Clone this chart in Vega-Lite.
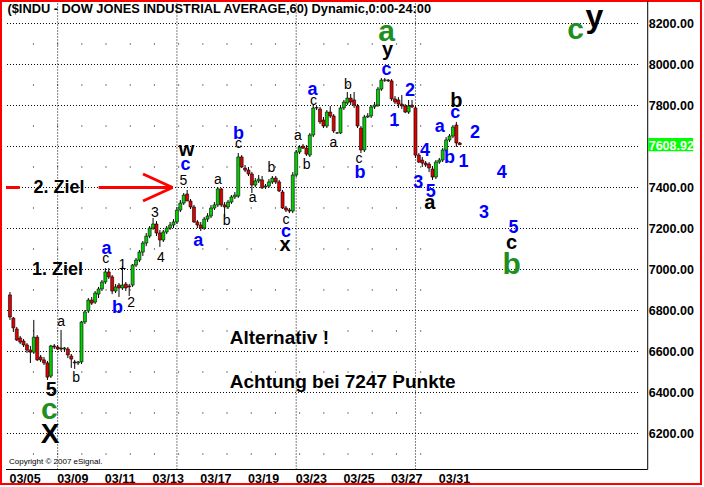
{
  "$schema": "https://vega.github.io/schema/vega-lite/v6.json",
  "width": 700,
  "height": 483,
  "autosize": {"type": "none"},
  "padding": {"left": 1, "top": 1, "right": 3, "bottom": 3},
  "background": "#ffffff",
  "config": {
    "view": {"stroke": "#ff0000", "strokeWidth": 2},
    "text": {"font": "Liberation Sans, Arial, sans-serif"}
  },
  "datasets": {
    "candles": [
      {"bar": 0, "open": 6876, "high": 6890, "low": 6754, "close": 6768},
      {"bar": 1, "open": 6763, "high": 6768, "low": 6695, "close": 6715},
      {"bar": 2, "open": 6710, "high": 6720, "low": 6651, "close": 6656},
      {"bar": 3, "open": 6666, "high": 6676, "low": 6636, "close": 6646},
      {"bar": 4, "open": 6651, "high": 6661, "low": 6622, "close": 6632},
      {"bar": 5, "open": 6632, "high": 6641, "low": 6593, "close": 6607},
      {"bar": 6, "open": 6607, "high": 6627, "low": 6544, "close": 6597},
      {"bar": 7, "open": 6597, "high": 6754, "low": 6588, "close": 6670},
      {"bar": 8, "open": 6670, "high": 6680, "low": 6554, "close": 6559},
      {"bar": 9, "open": 6573, "high": 6583, "low": 6549, "close": 6559},
      {"bar": 10, "open": 6559, "high": 6573, "low": 6534, "close": 6544},
      {"bar": 11, "open": 6544, "high": 6554, "low": 6461, "close": 6475},
      {"bar": 12, "open": 6480, "high": 6632, "low": 6471, "close": 6627},
      {"bar": 13, "open": 6627, "high": 6637, "low": 6612, "close": 6622},
      {"bar": 14, "open": 6622, "high": 6632, "low": 6607, "close": 6612},
      {"bar": 15, "open": 6617, "high": 6705, "low": 6602, "close": 6612},
      {"bar": 16, "open": 6612, "high": 6622, "low": 6602, "close": 6617},
      {"bar": 17, "open": 6612, "high": 6622, "low": 6568, "close": 6583},
      {"bar": 18, "open": 6578, "high": 6588, "low": 6520, "close": 6563},
      {"bar": 19, "open": 6549, "high": 6559, "low": 6515, "close": 6544},
      {"bar": 20, "open": 6544, "high": 6554, "low": 6534, "close": 6549},
      {"bar": 21, "open": 6549, "high": 6749, "low": 6539, "close": 6744},
      {"bar": 22, "open": 6744, "high": 6802, "low": 6734, "close": 6793},
      {"bar": 23, "open": 6798, "high": 6861, "low": 6788, "close": 6851},
      {"bar": 24, "open": 6851, "high": 6866, "low": 6827, "close": 6836},
      {"bar": 25, "open": 6841, "high": 6895, "low": 6832, "close": 6885},
      {"bar": 26, "open": 6880, "high": 6915, "low": 6861, "close": 6905},
      {"bar": 27, "open": 6905, "high": 6949, "low": 6895, "close": 6939},
      {"bar": 28, "open": 6939, "high": 7007, "low": 6929, "close": 6988},
      {"bar": 29, "open": 6988, "high": 7007, "low": 6954, "close": 6964},
      {"bar": 30, "open": 6964, "high": 6973, "low": 6880, "close": 6895},
      {"bar": 31, "open": 6895, "high": 6929, "low": 6885, "close": 6915},
      {"bar": 32, "open": 6924, "high": 6934, "low": 6866, "close": 6910},
      {"bar": 33, "open": 6910, "high": 7017, "low": 6900, "close": 6924},
      {"bar": 34, "open": 6929, "high": 6939, "low": 6895, "close": 6910},
      {"bar": 35, "open": 6920, "high": 6930, "low": 6871, "close": 6915},
      {"bar": 36, "open": 6924, "high": 7027, "low": 6915, "close": 7022},
      {"bar": 37, "open": 7022, "high": 7056, "low": 7012, "close": 7046},
      {"bar": 38, "open": 7046, "high": 7095, "low": 7036, "close": 7085},
      {"bar": 39, "open": 7085, "high": 7139, "low": 7066, "close": 7129},
      {"bar": 40, "open": 7129, "high": 7178, "low": 7114, "close": 7163},
      {"bar": 41, "open": 7163, "high": 7212, "low": 7153, "close": 7202},
      {"bar": 42, "open": 7202, "high": 7251, "low": 7193, "close": 7222},
      {"bar": 43, "open": 7222, "high": 7236, "low": 7163, "close": 7178},
      {"bar": 44, "open": 7178, "high": 7193, "low": 7110, "close": 7144},
      {"bar": 45, "open": 7144, "high": 7193, "low": 7134, "close": 7183},
      {"bar": 46, "open": 7183, "high": 7212, "low": 7173, "close": 7202},
      {"bar": 47, "open": 7202, "high": 7232, "low": 7193, "close": 7217},
      {"bar": 48, "open": 7217, "high": 7246, "low": 7202, "close": 7232},
      {"bar": 49, "open": 7232, "high": 7305, "low": 7222, "close": 7290},
      {"bar": 50, "open": 7290, "high": 7339, "low": 7280, "close": 7324},
      {"bar": 51, "open": 7324, "high": 7373, "low": 7315, "close": 7363},
      {"bar": 52, "open": 7368, "high": 7388, "low": 7334, "close": 7334},
      {"bar": 53, "open": 7334, "high": 7344, "low": 7295, "close": 7305},
      {"bar": 54, "open": 7305, "high": 7315, "low": 7227, "close": 7232},
      {"bar": 55, "open": 7232, "high": 7241, "low": 7202, "close": 7217},
      {"bar": 56, "open": 7217, "high": 7232, "low": 7188, "close": 7202},
      {"bar": 57, "open": 7202, "high": 7256, "low": 7193, "close": 7246},
      {"bar": 58, "open": 7246, "high": 7275, "low": 7232, "close": 7261},
      {"bar": 59, "open": 7261, "high": 7315, "low": 7251, "close": 7300},
      {"bar": 60, "open": 7300, "high": 7329, "low": 7290, "close": 7315},
      {"bar": 61, "open": 7315, "high": 7402, "low": 7305, "close": 7393},
      {"bar": 62, "open": 7393, "high": 7398, "low": 7305, "close": 7315},
      {"bar": 63, "open": 7315, "high": 7329, "low": 7256, "close": 7305},
      {"bar": 64, "open": 7305, "high": 7339, "low": 7295, "close": 7329},
      {"bar": 65, "open": 7329, "high": 7363, "low": 7320, "close": 7354},
      {"bar": 66, "open": 7354, "high": 7378, "low": 7344, "close": 7363},
      {"bar": 67, "open": 7358, "high": 7568, "low": 7349, "close": 7549},
      {"bar": 68, "open": 7549, "high": 7558, "low": 7495, "close": 7500},
      {"bar": 69, "open": 7495, "high": 7510, "low": 7475, "close": 7485},
      {"bar": 70, "open": 7485, "high": 7500, "low": 7456, "close": 7466},
      {"bar": 71, "open": 7466, "high": 7476, "low": 7373, "close": 7412},
      {"bar": 72, "open": 7412, "high": 7446, "low": 7402, "close": 7432},
      {"bar": 73, "open": 7432, "high": 7461, "low": 7422, "close": 7441},
      {"bar": 74, "open": 7437, "high": 7456, "low": 7393, "close": 7398},
      {"bar": 75, "open": 7402, "high": 7417, "low": 7393, "close": 7407},
      {"bar": 76, "open": 7407, "high": 7441, "low": 7398, "close": 7427},
      {"bar": 77, "open": 7427, "high": 7456, "low": 7417, "close": 7446},
      {"bar": 78, "open": 7446, "high": 7456, "low": 7417, "close": 7427},
      {"bar": 79, "open": 7427, "high": 7437, "low": 7378, "close": 7383},
      {"bar": 80, "open": 7378, "high": 7388, "low": 7295, "close": 7300},
      {"bar": 81, "open": 7300, "high": 7310, "low": 7280, "close": 7290},
      {"bar": 82, "open": 7290, "high": 7300, "low": 7275, "close": 7285},
      {"bar": 83, "open": 7285, "high": 7475, "low": 7275, "close": 7461},
      {"bar": 84, "open": 7461, "high": 7583, "low": 7451, "close": 7573},
      {"bar": 85, "open": 7573, "high": 7607, "low": 7563, "close": 7597},
      {"bar": 86, "open": 7602, "high": 7612, "low": 7588, "close": 7592},
      {"bar": 87, "open": 7592, "high": 7607, "low": 7554, "close": 7563},
      {"bar": 88, "open": 7558, "high": 7666, "low": 7549, "close": 7656},
      {"bar": 89, "open": 7656, "high": 7802, "low": 7646, "close": 7788},
      {"bar": 90, "open": 7788, "high": 7797, "low": 7778, "close": 7790},
      {"bar": 91, "open": 7783, "high": 7793, "low": 7710, "close": 7720},
      {"bar": 92, "open": 7729, "high": 7744, "low": 7690, "close": 7700},
      {"bar": 93, "open": 7700, "high": 7778, "low": 7690, "close": 7768},
      {"bar": 94, "open": 7768, "high": 7797, "low": 7739, "close": 7749},
      {"bar": 95, "open": 7749, "high": 7758, "low": 7666, "close": 7676},
      {"bar": 96, "open": 7666, "high": 7671, "low": 7661, "close": 7666},
      {"bar": 97, "open": 7666, "high": 7797, "low": 7661, "close": 7788},
      {"bar": 98, "open": 7788, "high": 7827, "low": 7778, "close": 7817},
      {"bar": 99, "open": 7812, "high": 7866, "low": 7802, "close": 7836},
      {"bar": 100, "open": 7836, "high": 7856, "low": 7802, "close": 7817},
      {"bar": 101, "open": 7827, "high": 7866, "low": 7788, "close": 7802},
      {"bar": 102, "open": 7798, "high": 7807, "low": 7690, "close": 7700},
      {"bar": 103, "open": 7690, "high": 7700, "low": 7568, "close": 7583},
      {"bar": 104, "open": 7583, "high": 7754, "low": 7573, "close": 7744},
      {"bar": 105, "open": 7744, "high": 7763, "low": 7739, "close": 7749},
      {"bar": 106, "open": 7749, "high": 7802, "low": 7739, "close": 7793},
      {"bar": 107, "open": 7793, "high": 7817, "low": 7783, "close": 7802},
      {"bar": 108, "open": 7802, "high": 7890, "low": 7793, "close": 7880},
      {"bar": 109, "open": 7880, "high": 7934, "low": 7871, "close": 7924},
      {"bar": 110, "open": 7924, "high": 7934, "low": 7915, "close": 7924},
      {"bar": 111, "open": 7924, "high": 7929, "low": 7915, "close": 7920},
      {"bar": 112, "open": 7920, "high": 7929, "low": 7822, "close": 7832},
      {"bar": 113, "open": 7832, "high": 7846, "low": 7807, "close": 7817},
      {"bar": 114, "open": 7827, "high": 7841, "low": 7788, "close": 7807},
      {"bar": 115, "open": 7807, "high": 7851, "low": 7783, "close": 7798},
      {"bar": 116, "open": 7798, "high": 7807, "low": 7763, "close": 7768},
      {"bar": 117, "open": 7768, "high": 7827, "low": 7759, "close": 7798},
      {"bar": 118, "open": 7802, "high": 7827, "low": 7788, "close": 7793},
      {"bar": 119, "open": 7788, "high": 7798, "low": 7544, "close": 7558},
      {"bar": 120, "open": 7558, "high": 7568, "low": 7519, "close": 7524},
      {"bar": 121, "open": 7534, "high": 7549, "low": 7500, "close": 7519},
      {"bar": 122, "open": 7519, "high": 7529, "low": 7500, "close": 7510},
      {"bar": 123, "open": 7514, "high": 7524, "low": 7475, "close": 7495},
      {"bar": 124, "open": 7490, "high": 7505, "low": 7437, "close": 7451},
      {"bar": 125, "open": 7451, "high": 7534, "low": 7441, "close": 7524},
      {"bar": 126, "open": 7524, "high": 7544, "low": 7515, "close": 7534},
      {"bar": 127, "open": 7534, "high": 7593, "low": 7524, "close": 7583},
      {"bar": 128, "open": 7583, "high": 7646, "low": 7573, "close": 7632},
      {"bar": 129, "open": 7632, "high": 7661, "low": 7622, "close": 7651},
      {"bar": 130, "open": 7651, "high": 7705, "low": 7641, "close": 7695},
      {"bar": 131, "open": 7705, "high": 7720, "low": 7598, "close": 7617},
      {"bar": 132, "open": 7617, "high": 7622, "low": 7607, "close": 7608.92}
    ],
    "levels": [
      {"level": 6200}, {"level": 6400}, {"level": 6600}, {"level": 6800},
      {"level": 7000}, {"level": 7200}, {"level": 7400}, {"level": 7600},
      {"level": 7800}, {"level": 8000}, {"level": 8200}
    ],
    "midLevels": [
      {"level": 6100}, {"level": 6300}, {"level": 6500}, {"level": 6700},
      {"level": 6900}, {"level": 7100}, {"level": 7300}, {"level": 7500},
      {"level": 7700}, {"level": 7900}, {"level": 8100}
    ],
    "mondays": [{"bar": 14}, {"bar": 49}, {"bar": 84}, {"bar": 119}],
    "days": [
      {"bar": 0, "date": "03/05"}, {"bar": 14, "date": "03/09"},
      {"bar": 28, "date": "03/11"}, {"bar": 42, "date": "03/13"},
      {"bar": 56, "date": "03/17"}, {"bar": 70, "date": "03/19"},
      {"bar": 84, "date": "03/23"}, {"bar": 98, "date": "03/25"},
      {"bar": 112, "date": "03/27"}, {"bar": 126, "date": "03/31"}
    ],
    "waves": [
      {"label": "X", "bar": 11.8, "price": 6193.2, "degree": "Cycle"},
      {"label": "y", "bar": 171.5, "price": 8232, "degree": "Cycle"},
      {"label": "c", "bar": 11.57, "price": 6316, "degree": "Primary"},
      {"label": "a", "bar": 110.5, "price": 8159.5, "degree": "Primary"},
      {"label": "b", "bar": 147.2, "price": 7022, "degree": "Primary"},
      {"label": "c", "bar": 166.0, "price": 8169.2, "degree": "Primary"},
      {"label": "5", "bar": 12.15, "price": 6411.2, "degree": "Intermediate"},
      {"label": "w", "bar": 51.8, "price": 7581.9, "degree": "Intermediate"},
      {"label": "x", "bar": 80.7, "price": 7118.5, "degree": "Intermediate"},
      {"label": "y", "bar": 110.8, "price": 8070.2, "degree": "Intermediate"},
      {"label": "b", "bar": 131.0, "price": 7820.5, "degree": "Intermediate"},
      {"label": "a", "bar": 123.2, "price": 7323.4, "degree": "Intermediate"},
      {"label": "c", "bar": 147.2, "price": 7128.3, "degree": "Intermediate"},
      {"label": "a", "bar": 28.35, "price": 7098.5, "degree": "Minor"},
      {"label": "b", "bar": 31.53, "price": 6811.2, "degree": "Minor"},
      {"label": "c", "bar": 51.49, "price": 7508.3, "degree": "Minor"},
      {"label": "a", "bar": 55.25, "price": 7137.5, "degree": "Minor"},
      {"label": "b", "bar": 67.1, "price": 7660, "degree": "Minor"},
      {"label": "c", "bar": 81.0, "price": 7181.4, "degree": "Minor"},
      {"label": "a", "bar": 88.8, "price": 7874.1, "degree": "Minor"},
      {"label": "b", "bar": 102.7, "price": 7469.7, "degree": "Minor"},
      {"label": "c", "bar": 110.5, "price": 7971.7, "degree": "Minor"},
      {"label": "2", "bar": 117.4, "price": 7870.7, "degree": "Minor"},
      {"label": "1", "bar": 112.8, "price": 7724.4, "degree": "Minor"},
      {"label": "4", "bar": 121.8, "price": 7578, "degree": "Minor"},
      {"label": "3", "bar": 119.8, "price": 7422, "degree": "Minor"},
      {"label": "5", "bar": 123.5, "price": 7378, "degree": "Minor"},
      {"label": "a", "bar": 126.1, "price": 7693.6, "degree": "Minor"},
      {"label": "b", "bar": 129.0, "price": 7542.9, "degree": "Minor"},
      {"label": "c", "bar": 130.7, "price": 7761.9, "degree": "Minor"},
      {"label": "1", "bar": 133.1, "price": 7524.4, "degree": "Minor"},
      {"label": "2", "bar": 136.5, "price": 7665.8, "degree": "Minor"},
      {"label": "4", "bar": 144.3, "price": 7470.7, "degree": "Minor"},
      {"label": "3", "bar": 139.1, "price": 7275.6, "degree": "Minor"},
      {"label": "5", "bar": 147.8, "price": 7202.4, "degree": "Minor"},
      {"label": "a", "bar": 15.0, "price": 6741.9, "degree": "Minute"},
      {"label": "b", "bar": 19.4, "price": 6471.2, "degree": "Minute"},
      {"label": "c", "bar": 28.1, "price": 7049.3, "degree": "Minute"},
      {"label": "1", "bar": 33.0, "price": 7022.9, "degree": "Minute"},
      {"label": "2", "bar": 35.6, "price": 6837.5, "degree": "Minute"},
      {"label": "3", "bar": 42.5, "price": 7276.6, "degree": "Minute"},
      {"label": "4", "bar": 44.3, "price": 7057.1, "degree": "Minute"},
      {"label": "5", "bar": 50.9, "price": 7432.7, "degree": "Minute"},
      {"label": "a", "bar": 61.0, "price": 7434.6, "degree": "Minute"},
      {"label": "b", "bar": 63.6, "price": 7237, "degree": "Minute"},
      {"label": "c", "bar": 67.1, "price": 7610.2, "degree": "Minute"},
      {"label": "a", "bar": 71.2, "price": 7346.8, "degree": "Minute"},
      {"label": "b", "bar": 76.7, "price": 7495.6, "degree": "Minute"},
      {"label": "c", "bar": 81.0, "price": 7239.5, "degree": "Minute"},
      {"label": "a", "bar": 84.5, "price": 7649.2, "degree": "Minute"},
      {"label": "b", "bar": 87.1, "price": 7510.2, "degree": "Minute"},
      {"label": "c", "bar": 89.1, "price": 7820, "degree": "Minute"},
      {"label": "a", "bar": 94.9, "price": 7615.1, "degree": "Minute"},
      {"label": "b", "bar": 99.2, "price": 7900.5, "degree": "Minute"},
      {"label": "c", "bar": 102.4, "price": 7537, "degree": "Minute"}
    ],
    "notes": [
      {"note": "1. Ziel", "bar": 6.5, "price": 6997, "kind": "target"},
      {"note": "2. Ziel", "bar": 6.9, "price": 7397, "kind": "target"},
      {"note": "Alternativ !", "bar": 64.5, "price": 6665.3, "kind": "remark"},
      {"note": "Achtung bei 7247 Punkte", "bar": 64.5, "price": 6450.7, "kind": "remark"}
    ]
  },
  "layer": [
    {
      "description": "dotted price grid",
      "data": {"name": "levels"},
      "mark": {"type": "rule", "color": "#000000", "strokeWidth": 1, "strokeDash": [1, 2]},
      "encoding": {
        "y": {"field": "level", "type": "quantitative", "scale": {"domain": [5953.65, 8309.72], "nice": false, "zero": false}, "axis": null},
        "x": {"datum": -0.87, "type": "quantitative", "scale": {"domain": [-1.157, 201.33], "nice": false, "zero": false}, "axis": null},
        "x2": {"datum": 184.55}
      }
    },
    {
      "description": "single grid dots at each trading day on the odd hundreds",
      "data": {"name": "midLevels"},
      "mark": {"type": "rule", "color": "#000000", "strokeWidth": 1, "strokeDash": [1, 23.2]},
      "encoding": {
        "y": {"field": "level", "type": "quantitative", "scale": {"domain": [5953.65, 8309.72], "nice": false, "zero": false}, "axis": null},
        "x": {"datum": 6.75, "type": "quantitative", "scale": {"domain": [-1.157, 201.33], "nice": false, "zero": false}, "axis": null},
        "x2": {"datum": 126.3}
      }
    },
    {
      "description": "weekly dotted separators",
      "data": {"name": "mondays"},
      "mark": {"type": "rule", "color": "#000000", "strokeWidth": 1, "strokeDash": [1, 2]},
      "encoding": {
        "x": {"field": "bar", "type": "quantitative", "scale": {"domain": [-1.157, 201.33], "nice": false, "zero": false}, "axis": null},
        "y": {"datum": 6024.4, "type": "quantitative", "scale": {"domain": [5953.65, 8309.72], "nice": false, "zero": false}, "axis": null},
        "y2": {"datum": 8305}
      }
    },
    {
      "description": "plot frame: bottom edge",
      "data": {"values": [{}]},
      "mark": {"type": "rule", "color": "#000000", "strokeWidth": 1},
      "encoding": {
        "x": {"datum": -1.157, "type": "quantitative", "scale": {"domain": [-1.157, 201.33], "nice": false, "zero": false}, "axis": null},
        "x2": {"datum": 187.16},
        "y": {"datum": 6024.4, "type": "quantitative", "scale": {"domain": [5953.65, 8309.72], "nice": false, "zero": false}, "axis": null}
      }
    },
    {
      "description": "plot frame: price scale edge",
      "data": {"values": [{}]},
      "mark": {"type": "rule", "color": "#000000", "strokeWidth": 1},
      "encoding": {
        "x": {"datum": 187.16, "type": "quantitative", "scale": {"domain": [-1.157, 201.33], "nice": false, "zero": false}, "axis": null},
        "y": {"datum": 6024.4, "type": "quantitative", "scale": {"domain": [5953.65, 8309.72], "nice": false, "zero": false}, "axis": null},
        "y2": {"datum": 8309.72}
      }
    },
    {
      "description": "candle wicks",
      "data": {"name": "candles"},
      "mark": {"type": "rule", "color": "#000000", "strokeWidth": 1},
      "encoding": {
        "x": {"field": "bar", "type": "quantitative", "scale": {"domain": [-1.157, 201.33], "nice": false, "zero": false}, "axis": null},
        "y": {"field": "low", "type": "quantitative", "scale": {"domain": [5953.65, 8309.72], "nice": false, "zero": false}, "axis": null},
        "y2": {"field": "high"}
      }
    },
    {
      "description": "candle bodies",
      "data": {"name": "candles"},
      "mark": {"type": "bar", "size": 3, "orient": "vertical", "stroke": "#000000", "strokeWidth": 0.6},
      "encoding": {
        "x": {"field": "bar", "type": "quantitative", "scale": {"domain": [-1.157, 201.33], "nice": false, "zero": false}, "axis": null},
        "y": {"field": "open", "type": "quantitative", "scale": {"domain": [5953.65, 8309.72], "nice": false, "zero": false}, "axis": null},
        "y2": {"field": "close"},
        "fill": {"condition": {"test": "datum.close < datum.open", "value": "#e00000"}, "value": "#00d000"}
      }
    },
    {
      "description": "target arrow at 7400: left stub",
      "data": {"values": [{}]},
      "mark": {"type": "rule", "color": "#ff0000", "strokeWidth": 3},
      "encoding": {
        "x": {"datum": -1.157, "type": "quantitative", "scale": {"domain": [-1.157, 201.33], "nice": false, "zero": false}, "axis": null},
        "x2": {"datum": 2.89},
        "y": {"datum": 7400, "type": "quantitative", "scale": {"domain": [5953.65, 8309.72], "nice": false, "zero": false}, "axis": null}
      }
    },
    {
      "description": "target arrow at 7400: shaft",
      "data": {"values": [{}]},
      "mark": {"type": "rule", "color": "#ff0000", "strokeWidth": 3},
      "encoding": {
        "x": {"datum": 26.03, "type": "quantitative", "scale": {"domain": [-1.157, 201.33], "nice": false, "zero": false}, "axis": null},
        "x2": {"datum": 47.73},
        "y": {"datum": 7400, "type": "quantitative", "scale": {"domain": [5953.65, 8309.72], "nice": false, "zero": false}, "axis": null}
      }
    },
    {
      "description": "target arrow at 7400: upper head",
      "data": {"values": [{}]},
      "mark": {"type": "rule", "color": "#ff0000", "strokeWidth": 3},
      "encoding": {
        "x": {"datum": 39.05, "type": "quantitative", "scale": {"domain": [-1.157, 201.33], "nice": false, "zero": false}, "axis": null},
        "x2": {"datum": 47.73},
        "y": {"datum": 7465.8, "type": "quantitative", "scale": {"domain": [5953.65, 8309.72], "nice": false, "zero": false}, "axis": null},
        "y2": {"datum": 7400}
      }
    },
    {
      "description": "target arrow at 7400: lower head",
      "data": {"values": [{}]},
      "mark": {"type": "rule", "color": "#ff0000", "strokeWidth": 3},
      "encoding": {
        "x": {"datum": 39.05, "type": "quantitative", "scale": {"domain": [-1.157, 201.33], "nice": false, "zero": false}, "axis": null},
        "x2": {"datum": 47.73},
        "y": {"datum": 7334.1, "type": "quantitative", "scale": {"domain": [5953.65, 8309.72], "nice": false, "zero": false}, "axis": null},
        "y2": {"datum": 7400}
      }
    },
    {
      "description": "wave labels, cycle degree",
      "data": {"name": "waves"},
      "transform": [{"filter": "datum.degree === 'Cycle'"}],
      "mark": {"type": "text", "fontWeight": "bold", "fontSize": 28, "color": "#000000", "align": "center", "baseline": "middle"},
      "encoding": {
        "x": {"field": "bar", "type": "quantitative", "scale": {"domain": [-1.157, 201.33], "nice": false, "zero": false}, "axis": null},
        "y": {"field": "price", "type": "quantitative", "scale": {"domain": [5953.65, 8309.72], "nice": false, "zero": false}, "axis": null},
        "text": {"field": "label"},
        "size": {"condition": {"test": "datum.label === 'y'", "value": 32}, "value": 28}
      }
    },
    {
      "description": "wave labels, primary degree",
      "data": {"name": "waves"},
      "transform": [{"filter": "datum.degree === 'Primary'"}],
      "mark": {"type": "text", "fontWeight": "bold", "fontSize": 30, "color": "#1f8f1f", "align": "center", "baseline": "middle"},
      "encoding": {
        "x": {"field": "bar", "type": "quantitative", "scale": {"domain": [-1.157, 201.33], "nice": false, "zero": false}, "axis": null},
        "y": {"field": "price", "type": "quantitative", "scale": {"domain": [5953.65, 8309.72], "nice": false, "zero": false}, "axis": null},
        "text": {"field": "label"}
      }
    },
    {
      "description": "wave labels, intermediate degree",
      "data": {"name": "waves"},
      "transform": [{"filter": "datum.degree === 'Intermediate'"}],
      "mark": {"type": "text", "fontWeight": "bold", "fontSize": 20, "color": "#000000", "align": "center", "baseline": "middle"},
      "encoding": {
        "x": {"field": "bar", "type": "quantitative", "scale": {"domain": [-1.157, 201.33], "nice": false, "zero": false}, "axis": null},
        "y": {"field": "price", "type": "quantitative", "scale": {"domain": [5953.65, 8309.72], "nice": false, "zero": false}, "axis": null},
        "text": {"field": "label"}
      }
    },
    {
      "description": "wave labels, minor degree",
      "data": {"name": "waves"},
      "transform": [{"filter": "datum.degree === 'Minor'"}],
      "mark": {"type": "text", "fontWeight": "bold", "fontSize": 18, "color": "#0000ff", "align": "center", "baseline": "middle"},
      "encoding": {
        "x": {"field": "bar", "type": "quantitative", "scale": {"domain": [-1.157, 201.33], "nice": false, "zero": false}, "axis": null},
        "y": {"field": "price", "type": "quantitative", "scale": {"domain": [5953.65, 8309.72], "nice": false, "zero": false}, "axis": null},
        "text": {"field": "label"}
      }
    },
    {
      "description": "wave labels, minute degree",
      "data": {"name": "waves"},
      "transform": [{"filter": "datum.degree === 'Minute'"}],
      "mark": {"type": "text", "fontWeight": "normal", "fontSize": 14, "color": "#000000", "align": "center", "baseline": "middle"},
      "encoding": {
        "x": {"field": "bar", "type": "quantitative", "scale": {"domain": [-1.157, 201.33], "nice": false, "zero": false}, "axis": null},
        "y": {"field": "price", "type": "quantitative", "scale": {"domain": [5953.65, 8309.72], "nice": false, "zero": false}, "axis": null},
        "text": {"field": "label"}
      }
    },
    {
      "description": "price targets",
      "data": {"name": "notes"},
      "transform": [{"filter": "datum.kind === 'target'"}],
      "mark": {"type": "text", "fontWeight": "bold", "fontSize": 18, "color": "#000000", "align": "left", "baseline": "middle"},
      "encoding": {
        "x": {"field": "bar", "type": "quantitative", "scale": {"domain": [-1.157, 201.33], "nice": false, "zero": false}, "axis": null},
        "y": {"field": "price", "type": "quantitative", "scale": {"domain": [5953.65, 8309.72], "nice": false, "zero": false}, "axis": null},
        "text": {"field": "note"}
      }
    },
    {
      "description": "remarks",
      "data": {"name": "notes"},
      "transform": [{"filter": "datum.kind === 'remark'"}],
      "mark": {"type": "text", "fontWeight": "bold", "fontSize": 19, "color": "#000000", "align": "left", "baseline": "middle"},
      "encoding": {
        "x": {"field": "bar", "type": "quantitative", "scale": {"domain": [-1.157, 201.33], "nice": false, "zero": false}, "axis": null},
        "y": {"field": "price", "type": "quantitative", "scale": {"domain": [5953.65, 8309.72], "nice": false, "zero": false}, "axis": null},
        "text": {"field": "note"}
      }
    },
    {
      "description": "symbol header",
      "data": {"values": [{"header": "($INDU - DOW JONES INDUSTRIAL AVERAGE,60) Dynamic,0:00-24:00"}]},
      "mark": {"type": "text", "fontWeight": "bold", "fontSize": 12.8, "color": "#000000", "align": "left", "baseline": "middle"},
      "encoding": {
        "x": {"datum": -0.72, "type": "quantitative", "scale": {"domain": [-1.157, 201.33], "nice": false, "zero": false}, "axis": null},
        "y": {"datum": 8272.2, "type": "quantitative", "scale": {"domain": [5953.65, 8309.72], "nice": false, "zero": false}, "axis": null},
        "text": {"field": "header"}
      }
    },
    {
      "description": "copyright line",
      "data": {"values": [{"credit": "Copyright © 2007 eSignal."}]},
      "mark": {"type": "text", "fontSize": 8, "color": "#000000", "align": "left", "baseline": "middle"},
      "encoding": {
        "x": {"datum": -0.29, "type": "quantitative", "scale": {"domain": [-1.157, 201.33], "nice": false, "zero": false}, "axis": null},
        "y": {"datum": 6061, "type": "quantitative", "scale": {"domain": [5953.65, 8309.72], "nice": false, "zero": false}, "axis": null},
        "text": {"field": "credit"}
      }
    },
    {
      "description": "date labels under the plot",
      "data": {"name": "days"},
      "mark": {"type": "text", "fontWeight": "bold", "fontSize": 12.5, "color": "#000000", "align": "left", "baseline": "middle", "dx": -0.5},
      "encoding": {
        "x": {"field": "bar", "type": "quantitative", "scale": {"domain": [-1.157, 201.33], "nice": false, "zero": false}, "axis": null},
        "y": {"datum": 5978.5, "type": "quantitative", "scale": {"domain": [5953.65, 8309.72], "nice": false, "zero": false}, "axis": null},
        "text": {"field": "date"}
      }
    },
    {
      "description": "price scale labels (7600 sits under the last price marker)",
      "data": {"name": "levels"},
      "transform": [{"filter": "datum.level !== 7600"}],
      "mark": {"type": "text", "fontWeight": "bold", "fontSize": 12.5, "color": "#000000", "align": "left", "baseline": "middle", "dy": 1},
      "encoding": {
        "x": {"datum": 187.45, "type": "quantitative", "scale": {"domain": [-1.157, 201.33], "nice": false, "zero": false}, "axis": null},
        "y": {"field": "level", "type": "quantitative", "scale": {"domain": [5953.65, 8309.72], "nice": false, "zero": false}, "axis": null},
        "text": {"field": "level", "type": "quantitative", "format": ".2f"}
      }
    },
    {
      "description": "last price marker box",
      "data": {"name": "candles"},
      "transform": [{"filter": "datum.bar === 132"}],
      "mark": {"type": "rect", "color": "#00ff00", "yOffset": -6.7, "y2Offset": 6.7},
      "encoding": {
        "x": {"datum": 187.3, "type": "quantitative", "scale": {"domain": [-1.157, 201.33], "nice": false, "zero": false}, "axis": null},
        "x2": {"datum": 200.5},
        "y": {"field": "close", "type": "quantitative", "scale": {"domain": [5953.65, 8309.72], "nice": false, "zero": false}, "axis": null},
        "y2": {"field": "close"}
      }
    },
    {
      "description": "last price value",
      "data": {"name": "candles"},
      "transform": [{"filter": "datum.bar === 132"}],
      "mark": {"type": "text", "fontWeight": "bold", "fontSize": 12.5, "color": "#ffffff", "align": "left", "baseline": "middle", "dy": 1},
      "encoding": {
        "x": {"datum": 187.45, "type": "quantitative", "scale": {"domain": [-1.157, 201.33], "nice": false, "zero": false}, "axis": null},
        "y": {"field": "close", "type": "quantitative", "scale": {"domain": [5953.65, 8309.72], "nice": false, "zero": false}, "axis": null},
        "text": {"field": "close", "type": "quantitative", "format": ".2f"}
      }
    }
  ]
}
